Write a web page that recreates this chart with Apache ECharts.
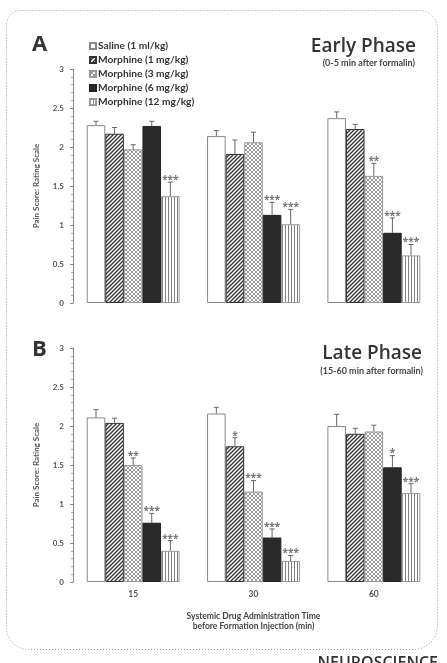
<!DOCTYPE html>
<html>
<head>
<meta charset="utf-8">
<script src="https://cdn.jsdelivr.net/npm/echarts@6/dist/echarts.min.js"></script>
<style>
  html, body { margin: 0; padding: 0; background: #fff; }
  #main { width: 447px; height: 663px; }
</style>
</head>
<body>
<div id="main"></div>
<script>
// categories (min before formalin injection)
var categories = ['15', '30', '60'];
var seriesNames = ['Saline (1 ml/kg)', 'Morphine (1 mg/kg)', 'Morphine (3 mg/kg)', 'Morphine (6 mg/kg)', 'Morphine (12 mg/kg)'];

// early phase means / SEM
var earlySaline = [2.28, 2.14, 2.37];
var earlyM1 = [2.17, 1.91, 2.23];
var earlyM3 = [1.97, 2.06, 1.63];
var earlyM6 = [2.27, 1.13, 0.90];
var earlyM12 = [1.37, 1.01, 0.61];
var earlySalineErr = [0.05, 0.07, 0.08];
var earlyM1Err = [0.08, 0.18, 0.06];
var earlyM3Err = [0.06, 0.13, 0.16];
var earlyM6Err = [0.06, 0.16, 0.19];
var earlyM12Err = [0.18, 0.19, 0.14];
var earlyStars = [['', '', ''], ['', '', ''], ['', '', '**'], ['', '***', '***'], ['***', '***', '***']];

// late phase means / SEM
var lateSaline = [2.11, 2.16, 2.00];
var lateM1 = [2.04, 1.74, 1.90];
var lateM3 = [1.50, 1.16, 1.93];
var lateM6 = [0.76, 0.57, 1.47];
var lateM12 = [0.40, 0.27, 1.14];
var lateSalineErr = [0.10, 0.08, 0.15];
var lateM1Err = [0.06, 0.11, 0.07];
var lateM3Err = [0.09, 0.14, 0.08];
var lateM6Err = [0.12, 0.11, 0.15];
var lateM12Err = [0.13, 0.07, 0.12];
var lateStars = [['', '', ''], ['', '*', ''], ['**', '***', ''], ['***', '***', '*'], ['***', '***', '***']];

var yTicks = [0, 0.5, 1, 1.5, 2, 2.5, 3];

var earlyMeans = [earlySaline, earlyM1, earlyM3, earlyM6, earlyM12];
var earlyErrs = [earlySalineErr, earlyM1Err, earlyM3Err, earlyM6Err, earlyM12Err];
var lateMeans = [lateSaline, lateM1, lateM3, lateM6, lateM12];
var lateErrs = [lateSalineErr, lateM1Err, lateM3Err, lateM6Err, lateM12Err];

var FONT = 'Lato, "Open Sans", sans-serif';
var TFONT = '"Open Sans", Lato, sans-serif';
var GAP = 0.228;

// fill patterns
function makePattern(size, draw) {
    var c = document.createElement('canvas');
    c.width = size; c.height = size;
    var ctx = c.getContext('2d');
    ctx.fillStyle = '#fff';
    ctx.fillRect(0, 0, size, size);
    draw(ctx);
    return { image: c, repeat: 'repeat' };
}
var hatch = makePattern(4, function (ctx) {
    ctx.strokeStyle = '#333';
    ctx.lineWidth = 1.3;
    ctx.beginPath();
    ctx.moveTo(-1, 5); ctx.lineTo(5, -1);
    ctx.moveTo(-1, 1); ctx.lineTo(1, -1);
    ctx.moveTo(3, 5); ctx.lineTo(5, 3);
    ctx.stroke();
});
var checker = makePattern(4, function (ctx) {
    ctx.strokeStyle = '#999';
    ctx.lineWidth = 1;
    ctx.beginPath();
    ctx.moveTo(0, 0); ctx.lineTo(4, 4);
    ctx.moveTo(4, 0); ctx.lineTo(0, 4);
    ctx.stroke();
});
var vstripe = makePattern(3, function (ctx) {
    ctx.fillStyle = '#808080';
    ctx.fillRect(0, 0, 1, 3);
});

var styles = [
    { color: '#fff', borderColor: '#888', borderWidth: 1 },
    { color: hatch, borderColor: '#333', borderWidth: 1 },
    { color: checker, borderColor: '#999', borderWidth: 1 },
    { color: '#2a2a2a', borderColor: '#222', borderWidth: 1 },
    { color: vstripe, borderColor: '#999', borderWidth: 1 }
];

function barSeries(means, gi) {
    return means.map(function (vals, i) {
        return {
            name: seriesNames[i],
            type: 'bar',
            xAxisIndex: gi, yAxisIndex: gi,
            data: vals,
            barGap: '0%',
            barCategoryGap: (GAP * 100) + '%',
            itemStyle: styles[i],
            silent: true
        };
    });
}

function errSeries(means, errs, stars, gi) {
    var data = [];
    means.forEach(function (vals, s) {
        vals.forEach(function (v, c) {
            data.push([c, v, errs[s][c], s, stars[s][c]]);
        });
    });
    return {
        type: 'custom',
        xAxisIndex: gi, yAxisIndex: gi,
        data: data,
        silent: true,
        z: 5,
        renderItem: function (params, api) {
            var c = api.value(0), v = api.value(1), e = api.value(2), s = api.value(3);
            var star = data[params.dataIndex][4];
            var band = api.size([1, 0])[0];
            var bw = band * (1 - GAP) / 5;
            var x = api.coord([c, 0])[0] + (s - 2) * bw;
            var yb = api.coord([c, v])[1];
            var yt = api.coord([c, v + e])[1];
            var st = { stroke: '#666', lineWidth: 1 };
            var kids = [
                { type: 'line', shape: { x1: x, y1: yb, x2: x, y2: yt }, style: st },
                { type: 'line', shape: { x1: x - 2.5, y1: yt, x2: x + 2.5, y2: yt }, style: st }
            ];
            if (star) {
                kids.push({
                    type: 'text',
                    style: { text: star, x: x, y: yt - 2, textAlign: 'center', textVerticalAlign: 'middle',
                             font: 'bold 10px ' + TFONT, fill: '#777' }
                });
            }
            return { type: 'group', children: kids };
        }
    };
}

function yAxis(gi) {
    return {
        type: 'value', gridIndex: gi,
        min: yTicks[0], max: yTicks[yTicks.length - 1], interval: 0.5,
        name: 'Pain Score: Rating Scale',
        nameLocation: 'middle', nameGap: 33, nameRotate: 90,
        nameTextStyle: { fontFamily: FONT, fontSize: 8, fontWeight: 'bold', color: '#555' },
        axisLine: { show: true, lineStyle: { color: '#888', width: 1 } },
        axisTick: { show: true, length: 3, lineStyle: { color: '#888' } },
        minorTick: { show: true, splitNumber: 5, length: 2, lineStyle: { color: '#aaa' } },
        splitLine: { show: false },
        axisLabel: { fontFamily: FONT, fontSize: 8, fontWeight: 'bold', color: '#555', margin: 9 }
    };
}

var myChart = echarts.init(document.getElementById('main'));
myChart.setOption({
    backgroundColor: '#fff',
    animation: false,
    textStyle: { fontFamily: FONT },
    legend: {
        data: seriesNames,
        orient: 'vertical',
        left: 84, top: 36,
        itemWidth: 6, itemHeight: 6, itemGap: 4,
        icon: 'rect',
        selectedMode: false,
        textStyle: { fontFamily: FONT, fontSize: 10.2, lineHeight: 10, fontWeight: 'bold', color: '#333', padding: [0, 0, 0, -3] }
    },
    grid: [
        { left: 73, right: 13, top: 69, height: 234 },
        { left: 73, right: 13, top: 348, height: 234 }
    ],
    xAxis: [
        { type: 'category', gridIndex: 0, data: categories,
          axisLine: { show: false }, axisTick: { show: false }, axisLabel: { show: false } },
        { type: 'category', gridIndex: 1, data: categories,
          axisLine: { show: false }, axisTick: { show: false },
          axisLabel: { fontFamily: FONT, fontSize: 8.5, fontWeight: 'bold', color: '#555', margin: 8 },
          name: 'Systemic Drug Administration Time\nbefore Formation Injection (min)',
          nameLocation: 'middle', nameGap: 29,
          nameTextStyle: { fontFamily: FONT, fontSize: 8.5, fontWeight: 'bold', color: '#444', lineHeight: 10 } }
    ],
    yAxis: [yAxis(0), yAxis(1)],
    series: barSeries(earlyMeans, 0)
        .concat(barSeries(lateMeans, 1))
        .concat([errSeries(earlyMeans, earlyErrs, earlyStars, 0), errSeries(lateMeans, lateErrs, lateStars, 1)]),
    graphic: [
        { type: 'rect', silent: true, z: -1,
          shape: { x: 6.5, y: 10.5, width: 431, height: 639, r: [14, 18, 24, 22] },
          style: { fill: 'none', stroke: '#999', lineWidth: 1, lineDash: [1, 2] } },
        { type: 'text', left: 32, top: 34,
          style: { text: 'A', font: 'bold 22px ' + TFONT, fill: '#333' } },
        { type: 'text', left: 32, top: 339,
          style: { text: 'B', font: 'bold 22px ' + TFONT, fill: '#333' } },
        { type: 'text', right: 31, top: 37,
          style: { text: 'Early Phase', font: '600 19px ' + TFONT, fill: '#333' } },
        { type: 'text', right: 32, top: 59,
          style: { text: '(0-5 min after formalin)', font: 'bold 9px ' + FONT, fill: '#444' } },
        { type: 'text', right: 25, top: 344,
          style: { text: 'Late Phase', font: '600 19px ' + TFONT, fill: '#333' } },
        { type: 'text', right: 24, top: 367,
          style: { text: '(15-60 min after formalin)', font: 'bold 9px ' + FONT, fill: '#444' } },
        { type: 'text', right: 9, top: 655,
          style: { text: 'NEUROSCIENCE', font: '600 16px ' + TFONT, fill: '#333' } }
    ]
});
</script>
</body>
</html>
